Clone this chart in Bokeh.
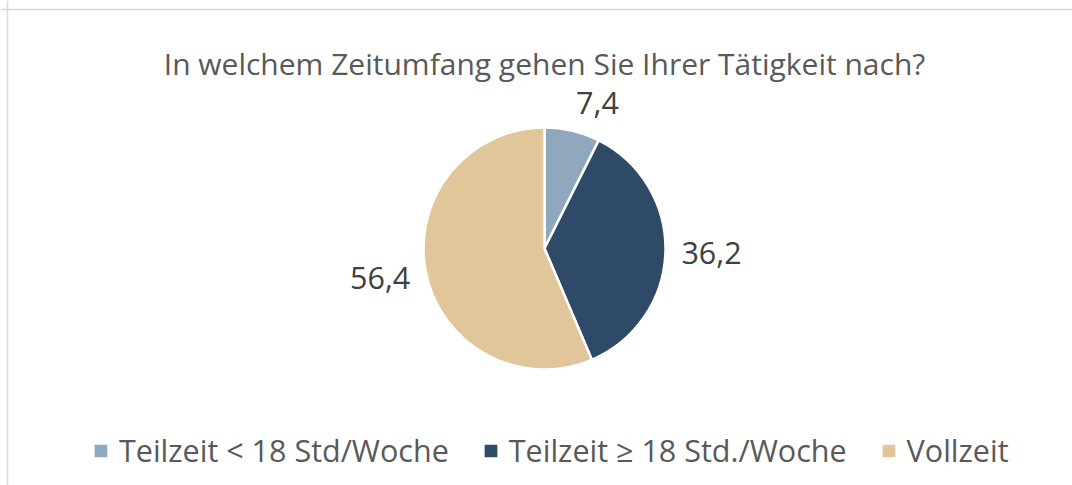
import math
from bokeh.plotting import figure
from bokeh.models import Range1d, Legend, LegendItem, ColumnDataSource, Span
from bokeh.core.properties import value
from bokeh.embed import file_html
from bokeh.resources import INLINE

# ---- data ----
title_text = "In welchem Zeitumfang gehen Sie Ihrer Tätigkeit nach?"
categories = ["Teilzeit < 18 Std/Woche", "Teilzeit \u2265 18 Std./Woche", "Vollzeit"]
values = [7.4, 36.2, 56.4]
colors = ["#8FA8BD", "#2E4A66", "#E0C699"]

# ---- layout ----
W, H = 1072, 485
FONT = "Open Sans"
cx, cy, R = 544, H - 248, 121

p = figure(width=W, height=H, output_backend="svg", toolbar_location=None,
           x_range=Range1d(0, W), y_range=Range1d(0, H), min_border=0,
           x_axis_type=None, y_axis_type=None)
p.xgrid.visible = False
p.ygrid.visible = False
p.outline_line_color = None
p.background_fill_color = "white"
p.border_fill_color = "white"

# chart-area border (left and top edges visible in the crop)
p.add_layout(Span(location=7, dimension="height", line_color="#D9D9D9", line_width=1.5))
p.add_layout(Span(location=H - 9, dimension="width", line_color="#D9D9D9", line_width=1.5))

total = sum(values)
starts, ends, lx, ly, ltxt, lalign = [], [], [], [], [], []
cum = 0.0
for v in values:
    f0 = cum / total
    f1 = (cum + v) / total
    cum += v
    starts.append(math.pi / 2 - 2 * math.pi * f1)
    ends.append(math.pi / 2 - 2 * math.pi * f0)
    mid = 2 * math.pi * (f0 + f1) / 2  # clockwise from top
    s, c = math.sin(mid), math.cos(mid)
    rl = R + 16
    lx.append(cx + rl * s)
    ly.append(cy + rl * c + c * 13)
    ltxt.append(f"{v:.1f}".replace(".", ","))
    lalign.append("left" if s >= 0 else "right")

src = ColumnDataSource(dict(start=starts, end=ends, color=colors, cat=categories))
r = p.wedge(x=cx, y=cy, radius=R, start_angle="start", end_angle="end",
            fill_color="color", line_color="white", line_width=2.5, source=src,
            direction="anticlock")

lsrc = ColumnDataSource(dict(x=lx, y=ly, t=ltxt, a=lalign))
p.text(x="x", y="y", text="t", text_align="a", text_baseline="middle",
       text_font=value(FONT), text_font_size="30.5px", text_color="#404040", source=lsrc)

p.text(x=[cx], y=[H - 63], text=[title_text], text_align="center",
       text_baseline="alphabetic", text_font=value(FONT), text_font_size="30px",
       text_color="#595959")

items = [LegendItem(label=categories[i], renderers=[r], index=i) for i in range(len(categories))]
legend = Legend(items=items, orientation="horizontal", location=(91, 14),
                glyph_width=19, glyph_height=19, label_standoff=9, spacing=32,
                padding=0, margin=0, border_line_color=None,
                background_fill_alpha=0,
                label_text_font=FONT, label_text_font_size="30.5px",
                label_text_color="#595959")
p.add_layout(legend, "center")

open("out.html", "w").write(file_html(p, INLINE))
